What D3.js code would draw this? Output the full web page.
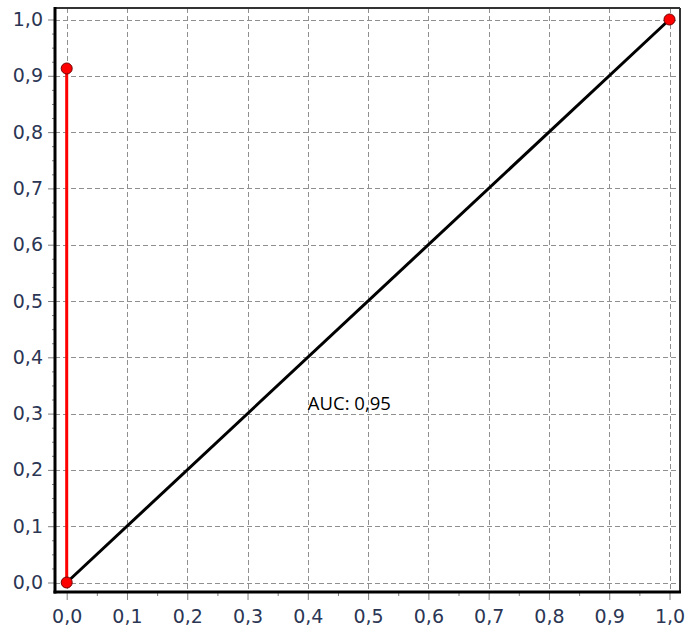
<!DOCTYPE html>
<html>
<head>
<meta charset="utf-8">
<script src="https://cdn.jsdelivr.net/npm/d3@7"></script>
<style>
  body { margin: 0; background: #fff; }
  .tick text { font-family: "DejaVu Sans", Verdana, sans-serif; font-size: 19px; fill: #2b3654; }
  .tick line { stroke: #808080; }
</style>
</head>
<body>
<svg id="chart" width="686" height="635"></svg>
<script>
// ROC points (markers) and the red segment joining the first two
var pointX = [0, 0, 1];
var pointY = [0, 0.913, 1];
var rocX = [0, 0];
var rocY = [0, 0.913];
var diagX = [0, 1];
var diagY = [0, 1];
var aucLabel = "AUC: 0,95";
var majorTicks = [0, 0.1, 0.2, 0.3, 0.4, 0.5, 0.6, 0.7, 0.8, 0.9, 1.0];

var svg = d3.select("#chart");
var frame = { left: 55, right: 680, top: 8, bottom: 592 };

var x = d3.scaleLinear().domain([0, 1]).range([66.7, 669.5]);
var y = d3.scaleLinear().domain([0, 1]).range([582.5, 19.5]);

var loc = d3.formatLocale({ decimal: ",", thousands: ".", grouping: [3], currency: ["", ""] });
var fmt = loc.format(".1f");

var xMinor = [];
for (var i = 0; i < 10; i++) xMinor.push(i * 0.1 + 0.05);
var yMinor = [];
for (var j = 0; j < 40; j++) { if (j % 4 != 0) yMinor.push(j * 0.025); }

// grid
var grid = svg.append("g").attr("stroke", "#909090").attr("stroke-width", 1).attr("stroke-dasharray", "5,3");
grid.selectAll(".gx").data(majorTicks).enter().append("line")
    .attr("x1", function (d) { return Math.round(x(d)) + 0.5; })
    .attr("x2", function (d) { return Math.round(x(d)) + 0.5; })
    .attr("y1", frame.top).attr("y2", frame.bottom);
grid.selectAll(".gy").data(majorTicks).enter().append("line")
    .attr("y1", function (d) { return Math.round(y(d)) + 0.5; })
    .attr("y2", function (d) { return Math.round(y(d)) + 0.5; })
    .attr("x1", frame.left).attr("x2", frame.right);

// axes
svg.append("g").attr("transform", "translate(0," + frame.bottom + ")")
    .call(d3.axisBottom(x).tickValues(majorTicks).tickFormat(fmt).tickSize(8).tickPadding(10));
svg.append("g").attr("transform", "translate(0," + frame.bottom + ")")
    .call(d3.axisBottom(x).tickValues(xMinor).tickFormat("").tickSize(4));
svg.append("g").attr("transform", "translate(" + frame.left + ",0)")
    .call(d3.axisLeft(y).tickValues(majorTicks).tickFormat(fmt).tickSize(7).tickPadding(5));
svg.append("g").attr("transform", "translate(" + frame.left + ",0)")
    .call(d3.axisLeft(y).tickValues(yMinor).tickFormat("").tickSize(3));
svg.selectAll(".domain").remove();

// frame
svg.append("line").attr("x1", frame.left).attr("x2", frame.right).attr("y1", frame.top).attr("y2", frame.top)
    .attr("stroke", "#333").attr("stroke-width", 2);
svg.append("line").attr("x1", frame.right).attr("x2", frame.right).attr("y1", frame.top).attr("y2", frame.bottom)
    .attr("stroke", "#333").attr("stroke-width", 2);
svg.append("line").attr("x1", frame.left).attr("x2", frame.left).attr("y1", frame.top - 1).attr("y2", frame.bottom + 1.5)
    .attr("stroke", "#000").attr("stroke-width", 3);
svg.append("line").attr("x1", frame.left - 1.5).attr("x2", frame.right + 1).attr("y1", frame.bottom).attr("y2", frame.bottom)
    .attr("stroke", "#000").attr("stroke-width", 3);

// lines
var line = d3.line().x(function (d) { return x(d[0]); }).y(function (d) { return y(d[1]); });
svg.append("path").datum(d3.zip(diagX, diagY)).attr("d", line)
    .attr("fill", "none").attr("stroke", "#000").attr("stroke-width", 3);
svg.append("path").datum(d3.zip(rocX, rocY)).attr("d", line)
    .attr("fill", "none").attr("stroke", "#ff0000").attr("stroke-width", 3);

svg.selectAll(".pt").data(d3.zip(pointX, pointY)).enter().append("circle")
    .attr("cx", function (d) { return x(d[0]); })
    .attr("cy", function (d) { return y(d[1]); })
    .attr("r", 5.5)
    .attr("fill", "#ff0000").attr("stroke", "#700000").attr("stroke-width", 1);

svg.append("text").attr("x", x(0.4)).attr("y", y(0.3) - 4)
    .attr("font-family", "'Open Sans', sans-serif").attr("font-size", 18.5).attr("fill", "#000")
    .text(aucLabel);
</script>
</body>
</html>
